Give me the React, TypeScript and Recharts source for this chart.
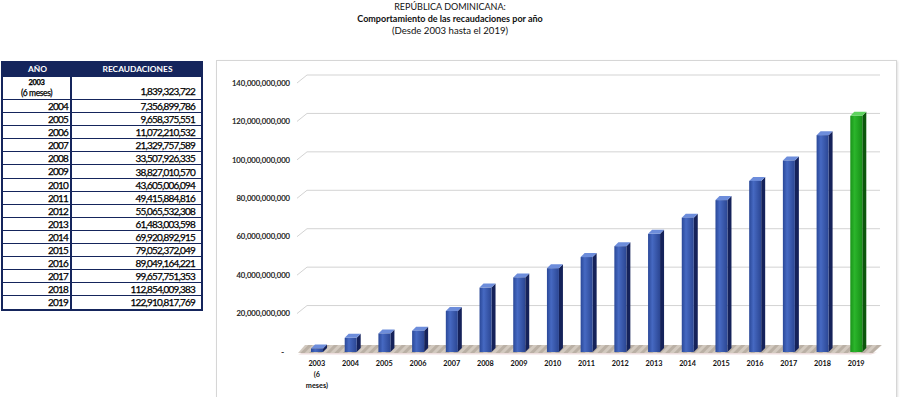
import React from 'react';
import { BarChart, Bar, XAxis, YAxis, CartesianGrid } from 'recharts';

const years = ['2003', '2004', '2005', '2006', '2007', '2008', '2009', '2010', '2011', '2012', '2013', '2014', '2015', '2016', '2017', '2018', '2019'];
const xLabels = ['2003\n(6\nmeses)', '2004', '2005', '2006', '2007', '2008', '2009', '2010', '2011', '2012', '2013', '2014', '2015', '2016', '2017', '2018', '2019'];
const recaudaciones = [1839323722, 7356899786, 9658375551, 11072210532, 21329757589, 33507926335, 38827010570, 43605006094, 49415884816, 55065532308, 61483003598, 69920892915, 79052372049, 89049164221, 99657751353, 112854009383, 122910817769];
const yTicks = [0, 20000000000, 40000000000, 60000000000, 80000000000, 100000000000, 120000000000, 140000000000];
const highlightYear = '2019';

const titleLines = ['REPÚBLICA DOMINICANA:', 'Comportamiento de las recaudaciones por año', '(Desde 2003 hasta el 2019)'];
const tableHeaders = ['AÑO', 'RECAUDACIONES'];

const data = years.map((y, i) => ({ year: y, label: xLabels[i], value: recaudaciones[i] }));

const fmt = (v: number) => v.toLocaleString('en-US');
const FONT = 'Lato, "Liberation Sans", sans-serif';
const NAVY = '#15255c';

const Bar3D = (props: any) => {
  const { x, y, width, height, payload } = props;
  if (x == null || y == null) return null;
  const d = 4;
  const green = payload && payload.year === highlightYear;
  const front = green ? 'url(#gFront)' : 'url(#bFront)';
  const top = green ? '#5fd35f' : '#6d8ddb';
  const side = green ? '#0c560c' : '#15225a';
  const h = Math.max(height, 0);
  return (
    <g>
      <polygon points={`${x + width},${y} ${x + width + d},${y - d} ${x + width + d},${y + h - d} ${x + width},${y + h}`} fill={side} />
      <polygon points={`${x},${y} ${x + d},${y - d} ${x + width + d},${y - d} ${x + width},${y}`} fill={top} />
      <rect x={x} y={y} width={width} height={h} fill={front} />
    </g>
  );
};

const gridLine = (p: any) => {
  const { x1, y1, x2, y, height } = p;
  const dx = 7;
  const dy = 8;
  const isFloor = Math.abs(y1 - (y + height)) < 0.5;
  if (isFloor) {
    return (
      <g key={p.key}>
        <polygon points={`${x1 - 2},${y1 + 2.5} ${x2 - 2},${y1 + 2.5} ${x2 + 4},${y1 + 0.5} ${x1 + 3},${y1 + 0.5}`} fill="#ecdcdc" />
        <polygon points={`${x1 - 2},${y1 + 1} ${x2},${y1 + 1} ${x2 + 9},${y1 - 7} ${x1 + 5},${y1 - 7}`} fill="url(#floorPat)" />
      </g>
    );
  }
  return (
    <g key={p.key}>
      <polyline points={`${x1 - 3},${y1} ${x1 + dx},${y1 - dy} ${x2 + dx},${y1 - dy}`} stroke="#d3d3d3" strokeWidth={1} fill="none" />
    </g>
  );
};

const XTick = (p: any) => {
  const { x, y, payload } = p;
  const lines = String(payload.value).split('\n');
  return (
    <text x={x} y={y} textAnchor="middle" fontFamily={FONT} fontSize={7.3} fontWeight="bold" fill="#111">
      {lines.map((l, i) => (
        <tspan key={i} x={x} dy={i === 0 ? '0.71em' : 11}>{l}</tspan>
      ))}
    </text>
  );
};

const YTick = (p: any) => {
  const { x, y, payload } = p;
  const v = payload.value;
  return (
    <text x={v === 0 ? x - 6 : x} y={y} dy="0.355em" textAnchor="end" fontFamily={FONT} fontSize={7.6} fill="#111" stroke="#111" strokeWidth={0.2}>
      {v === 0 ? '-' : fmt(v)}
    </text>
  );
};

const rowH = 13.1;

export default function App() {
  return (
    <div style={{ position: 'absolute', left: 0, top: 0, width: 900, height: 397, overflow: 'hidden', background: '#fff', fontFamily: FONT }}>
      <svg width={0} height={0} style={{ position: 'absolute' }}>
        <defs>
          <linearGradient id="bFront" x1="0" y1="0" x2="1" y2="0">
            <stop offset="0%" stopColor="#2a4898" />
            <stop offset="35%" stopColor="#4669c2" />
            <stop offset="100%" stopColor="#2b4693" />
          </linearGradient>
          <linearGradient id="gFront" x1="0" y1="0" x2="1" y2="0">
            <stop offset="0%" stopColor="#1a931a" />
            <stop offset="35%" stopColor="#2bb52b" />
            <stop offset="100%" stopColor="#179017" />
          </linearGradient>
          <pattern id="floorPat" width="6" height="6" patternUnits="userSpaceOnUse" patternTransform="rotate(45)">
            <rect width="6" height="6" fill="#d2c9bf" />
            <rect width="3" height="6" fill="#bab0a5" />
          </pattern>
        </defs>
      </svg>

      {titleLines.map((t, i) => (
        <div key={i} style={{ position: 'absolute', left: 0, width: 900, top: [1, 13, 25][i], textAlign: 'center', fontSize: [9, 9, 9.6][i], fontWeight: i === 1 ? 'bold' : 'normal', color: '#111', lineHeight: '12px' }}>{t}</div>
      ))}

      <div style={{ position: 'absolute', left: 1, top: 61, width: 198, border: `2px solid ${NAVY}`, color: '#000' }}>
        <div style={{ display: 'flex', height: 13, background: NAVY, color: '#fff', fontWeight: 'bold', fontSize: 8.4, lineHeight: '13px' }}>
          <div style={{ width: 69, textAlign: 'center', borderRight: `2px solid ${NAVY}` }}>{tableHeaders[0]}</div>
          <div style={{ flex: 1, textAlign: 'center' }}>{tableHeaders[1]}</div>
        </div>
        {years.map((yr, i) => {
          const first = i === 0;
          return (
            <div key={yr} style={{ display: 'flex', height: first ? 22 : rowH - 1, borderTop: `1px solid ${NAVY}`, fontSize: 10, letterSpacing: -0.8, WebkitTextStroke: '0.25px #000' } as any}>
              <div style={{ width: 69, borderRight: `2px solid ${NAVY}`, textAlign: first ? 'center' : 'right', paddingRight: first ? 0 : 2, boxSizing: 'border-box', lineHeight: first ? '11px' : `${rowH - 1}px` }}>
                {first ? (
                  <>
                    <div style={{ fontSize: 7.5, fontWeight: 'bold', letterSpacing: -0.3 }}>{yr}</div>
                    <div style={{ fontSize: 8.5, letterSpacing: -0.4 }}>(6 meses)</div>
                  </>
                ) : yr}
              </div>
              <div style={{ flex: 1, textAlign: 'right', paddingRight: 6, display: 'flex', justifyContent: 'flex-end', alignItems: first ? 'flex-end' : 'center', paddingBottom: first ? 2 : 0, boxSizing: 'border-box' }}>
                {fmt(recaudaciones[i])}
              </div>
            </div>
          );
        })}
      </div>

      <div style={{ position: 'absolute', left: 216, top: 60, width: 679, height: 360, border: '1px solid #d6d6d6', boxShadow: '1px 1px 2px rgba(0,0,0,0.12)' }} />

      <div style={{ position: 'absolute', left: 0, top: 0 }}>
        <BarChart width={900} height={397} data={data} margin={{ top: 83, right: 27, bottom: 15, left: 210 }} barSize={12}>
          <CartesianGrid vertical={false} horizontal={gridLine} stroke="#d3d3d3" />
          <XAxis dataKey="label" interval={0} tickLine={false} axisLine={false} height={30} tickMargin={3} tick={<XTick />} />
          <YAxis domain={[0, 140000000000]} ticks={yTicks} width={90} tickMargin={4} tickLine={false} axisLine={false} tick={<YTick />} />
          <Bar dataKey="value" shape={<Bar3D />} isAnimationActive={false} />
        </BarChart>
      </div>
    </div>
  );
}
